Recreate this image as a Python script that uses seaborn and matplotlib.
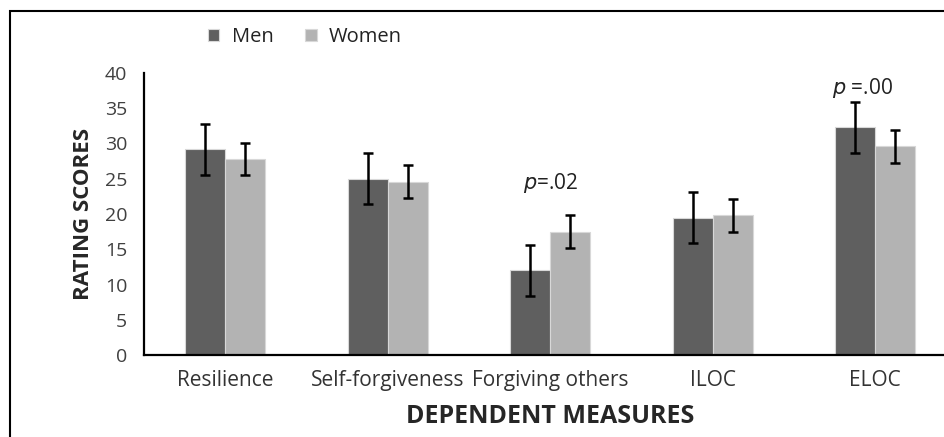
import matplotlib
matplotlib.use("Agg")
import matplotlib.pyplot as plt
import seaborn as sns
import pandas as pd
import numpy as np
from matplotlib.patches import Rectangle

measures = ["Resilience", "Self-forgiveness", "Forgiving others", "ILOC", "ELOC"]
men_means = [29.2, 25.0, 12.0, 19.5, 32.3]
men_err = [3.6, 3.6, 3.65, 3.65, 3.6]
women_means = [27.8, 24.6, 17.5, 19.8, 29.6]
women_err = [2.3, 2.35, 2.35, 2.3, 2.3]
groups = ["Men", "Women"]
yticks = [0, 5, 10, 15, 20, 25, 30, 35, 40]

sns.set_theme(style="white")
plt.rcParams["font.family"] = ["Open Sans", "DejaVu Sans"]

df = pd.DataFrame({
    "measure": measures * 2,
    "score": men_means + women_means,
    "err": men_err + women_err,
    "group": [groups[0]] * len(measures) + [groups[1]] * len(measures),
})

W, H = 944, 437
fig = plt.figure(figsize=(W / 100, H / 100), dpi=100)
ax = fig.add_axes([144 / W, 1 - 355 / H, 812.5 / W, 282 / H])

colors = {"Men": "#5f5f5f", "Women": "#b3b3b3"}
sns.barplot(data=df, x="measure", y="score", hue="group", order=measures,
            hue_order=groups, palette=colors, width=0.49, ax=ax,
            errorbar=None, edgecolor="#d8d8d8", linewidth=0.8, saturation=1)

# error bars at bar centres
for container, g in zip(ax.containers, groups):
    sub = df[df["group"] == g].set_index("measure").loc[measures]
    xs = [p.get_x() + p.get_width() / 2 for p in container.patches]
    ax.errorbar(xs, sub["score"].values, yerr=sub["err"].values, fmt="none",
                ecolor="black", elinewidth=1.8, capsize=3.8, capthick=1.8, zorder=5)

ax.set_ylim(0, 40)
ax.set_xlim(-0.5, len(measures) - 0.5)
ax.set_yticks(yticks)
ax.set_yticklabels([str(t) for t in yticks], fontsize=14, color="#404040")
ax.tick_params(axis="y", length=0, pad=12)
ax.tick_params(axis="x", length=0, pad=11, labelsize=15, labelcolor="#333333")
for s in ["top", "right"]:
    ax.spines[s].set_visible(False)
for s in ["left", "bottom"]:
    ax.spines[s].set_color("black")
    ax.spines[s].set_linewidth(1.6)

ax.set_xlabel("DEPENDENT MEASURES", fontsize=18, fontweight="bold", labelpad=9)
ax.set_ylabel("RATING SCORES", fontsize=16, fontweight="bold", labelpad=8)

ax.text(2, 24.4, "$\\it{p}$=.02", ha="center", va="center", fontsize=15, color="#222222")
ax.text(3.92, 37.9, "$\\it{p}$ =.00", ha="center", va="center", fontsize=15, color="#222222")

leg = ax.legend(loc="center", bbox_to_anchor=(305 / W, 1 - 37 / H),
                bbox_transform=fig.transFigure, ncol=2, frameon=False,
                fontsize=14.5, handlelength=0.55, handleheight=0.55,
                handletextpad=0.6, columnspacing=1.6)
for t in leg.get_texts():
    t.set_color("#222222")

fig.add_artist(Rectangle((10 / W, -0.05), 1.2, 1 - 11 / H + 0.05,
                         transform=fig.transFigure, fill=False,
                         edgecolor="black", linewidth=1.5))

fig.savefig("out.png", dpi=100)
